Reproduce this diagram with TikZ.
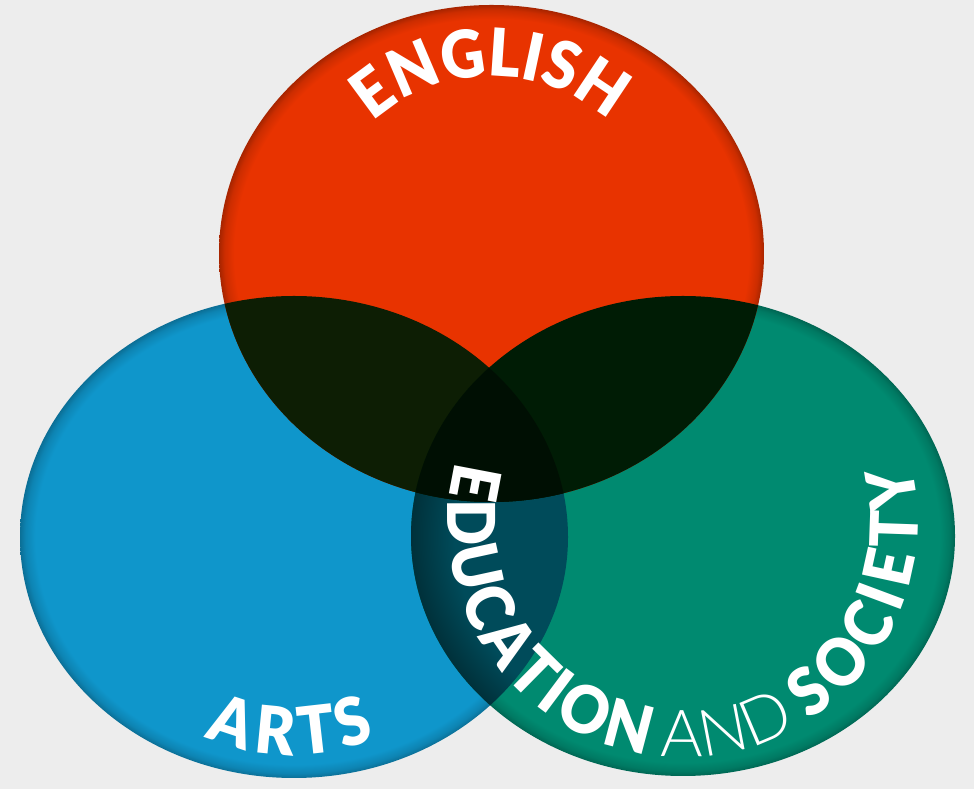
\documentclass[tikz,border=0pt]{standalone}
\usepackage{fontspec}
\usetikzlibrary{decorations.text}
\newfontfamily\latoblack{Lato Black}[FakeStretch=0.92]
\newfontfamily\latolight{Lato Light}
\definecolor{bgcol}{HTML}{EDEDED}
\definecolor{redc}{HTML}{E83300}
\definecolor{bluec}{HTML}{0F96CB}
\definecolor{greenc}{HTML}{008A70}
\definecolor{rbc}{HTML}{0D1E04}
\definecolor{rgc}{HTML}{001C05}
\definecolor{bgc}{HTML}{004B5A}
\definecolor{allc}{HTML}{000F03}
\colorlet{redrim}{redc!72!black}
\colorlet{bluerim}{bluec!74!black}
\colorlet{greenrim}{greenc!74!black}
\colorlet{bgrim}{bgc!65!black}
\pgfdeclareradialshading{redsh}{\pgfpoint{0bp}{0bp}}{color(0bp)=(redc); color(23.6bp)=(redc); color(24.5bp)=(redc!88!black); color(25bp)=(redrim); color(50bp)=(redrim)}
\pgfdeclareradialshading{bluesh}{\pgfpoint{0bp}{0bp}}{color(0bp)=(bluec); color(23.6bp)=(bluec); color(24.5bp)=(bluec!88!black); color(25bp)=(bluerim); color(50bp)=(bluerim)}
\pgfdeclareradialshading{greensh}{\pgfpoint{0bp}{0bp}}{color(0bp)=(greenc); color(23.6bp)=(greenc); color(24.5bp)=(greenc!88!black); color(25bp)=(greenrim); color(50bp)=(greenrim)}
\pgfdeclareradialshading{bgsh}{\pgfpoint{0bp}{0bp}}{color(0bp)=(bgc); color(21bp)=(bgc); color(25bp)=(bgrim); color(50bp)=(bgrim)}
\newcommand\boldfmt{\color{white}\latoblack\fontsize{66}{66}\selectfont}
\newcommand\lightfmt{\color{white}\latolight\fontsize{65}{65}\selectfont}
\tikzset{
  redell/.style={x radius=272.5, y radius=248.5},
  blueell/.style={x radius=274, y radius=241},
  greenell/.style={x radius=272, y radius=240},
  curved/.style={decorate, decoration={text along path, text align={fit to path}, text={#1}}}
}
\begin{document}
\begin{tikzpicture}[x=1pt,y=1pt]
\useasboundingbox (0,0) rectangle (974,789);
\fill[bgcol] (0,0) rectangle (974,789);
\coordinate (R) at (491.5,535.5);
\coordinate (B) at (294,252);
\coordinate (G) at (683,253);
\coordinate (T) at (683,267);
% base circles
\shade[shading=bluesh] (B) ellipse[blueell];
\shade[shading=greensh] (G) ellipse[greenell];
\shade[shading=redsh] (R) ellipse[redell];
% blue & green
\begin{scope}
  \clip (B) ellipse[blueell];
  \shade[shading=bgsh] (G) ellipse[greenell];
\end{scope}
% overlaps with red
\begin{scope}
  \clip (R) ellipse[redell];
  \fill[rbc] (B) ellipse[blueell];
  \fill[rgc] (G) ellipse[greenell];
  \clip (B) ellipse[blueell];
  \fill[allc] (G) ellipse[greenell];
\end{scope}
% texts
\path[curved={|\boldfmt|ENGLISH}] ([shift={(132:177)}]R) arc[start angle=132, end angle=49, radius=177];
\path[curved={|\boldfmt|ARTS}] ([shift={(246:218)}]B) arc[start angle=246, end angle=292, radius=218];
\path[curved={|\boldfmt|EDUCATION}] ([shift={(165:235)}]T) arc[start angle=165, end angle=261, radius=235];
\path[curved={|\lightfmt|AND}] ([shift={(264.5:235)}]T) arc[start angle=264.5, end angle=296, radius=235];
\path[curved={|\boldfmt|SOCIETY}] ([shift={(302.5:235)}]T) arc[start angle=302.5, end angle=374, radius=235];
\end{tikzpicture}
\end{document}
